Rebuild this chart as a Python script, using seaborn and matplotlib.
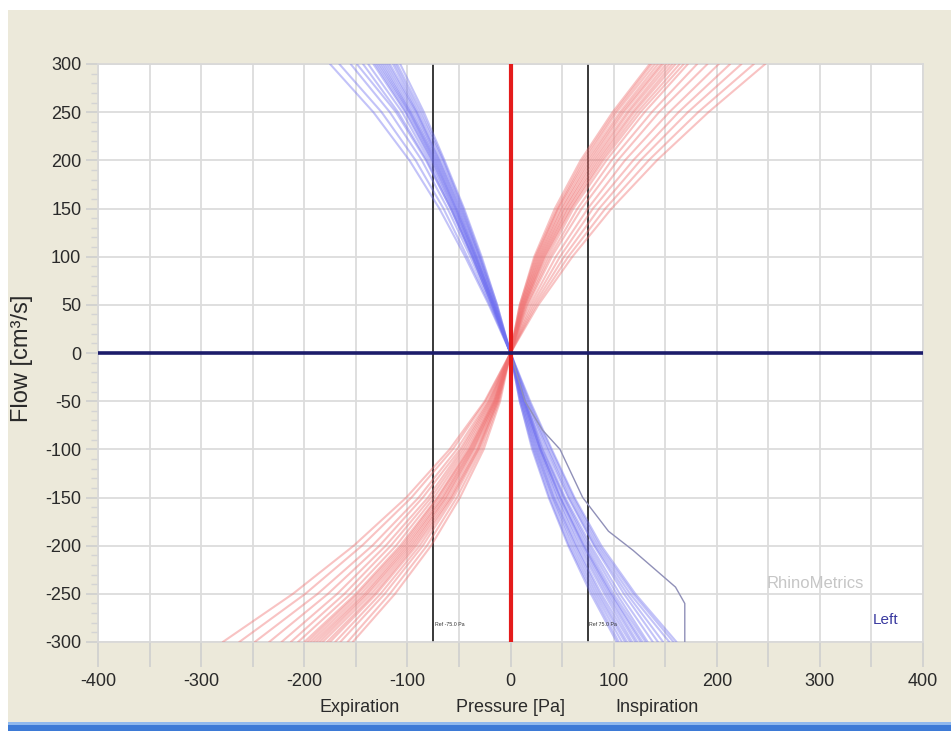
import matplotlib
matplotlib.use("Agg")
import matplotlib.pyplot as plt
from matplotlib.patches import Rectangle
from matplotlib.ticker import MultipleLocator
import pandas as pd
import seaborn as sns

# Flow levels (cm³/s) at which each trace's pressure (Pa) is sampled
flow_levels = [-300, -250, -200, -150, -100, -50, 0, 50, 100, 150, 200, 250, 300]

# Inspiration-type traces (red): pressure at each flow level
red_traces = [
    [-153, -112, -77, -49, -26, -10, 0, 9, 23, 43, 68, 99, 135],
    [-158, -117, -81, -52, -28, -11, 0, 9, 24, 45, 70, 101, 137],
    [-165, -122, -85, -55, -30, -12, 0, 10, 25, 46, 72, 103, 140],
    [-170, -126, -88, -57, -31, -12, 0, 10, 26, 47, 74, 106, 143],
    [-175, -130, -91, -58, -32, -13, 0, 11, 27, 49, 76, 108, 146],
    [-178, -132, -93, -60, -33, -13, 0, 11, 28, 50, 78, 110, 148],
    [-182, -135, -95, -62, -35, -14, 0, 12, 29, 52, 80, 113, 151],
    [-185, -138, -97, -63, -36, -14, 0, 12, 30, 53, 82, 115, 154],
    [-188, -140, -99, -65, -37, -15, 0, 13, 31, 55, 84, 118, 157],
    [-191, -142, -101, -66, -38, -15, 0, 13, 32, 56, 86, 120, 160],
    [-194, -145, -103, -68, -39, -16, 0, 14, 33, 58, 88, 123, 164],
    [-197, -148, -105, -70, -40, -16, 0, 14, 34, 59, 90, 126, 168],
    [-200, -150, -107, -71, -41, -17, 0, 15, 36, 61, 93, 130, 172],
    [-206, -155, -111, -74, -43, -18, 0, 16, 38, 65, 98, 137, 181],
    [-213, -161, -116, -77, -45, -19, 0, 17, 40, 69, 104, 144, 191],
    [-222, -168, -121, -80, -47, -20, 0, 19, 44, 75, 111, 154, 202],
    [-234, -177, -127, -85, -49, -21, 0, 21, 48, 80, 119, 163, 213],
    [-248, -187, -134, -89, -52, -22, 0, 23, 52, 86, 126, 172, 224],
    [-263, -199, -144, -96, -56, -24, 0, 25, 56, 92, 134, 182, 236],
    [-279, -211, -152, -101, -59, -25, 0, 27, 60, 98, 142, 192, 247],
]

# Expiration-type traces (blue): pressure at each flow level
blue_traces = [
    [103, 78, 56, 37, 21, 9, 0, -13, -28, -45, -64, -84, -107],
    [105, 80, 57, 38, 22, 9, 0, -13, -29, -46, -65, -86, -110],
    [108, 82, 59, 40, 23, 10, 0, -14, -30, -47, -66, -88, -112],
    [111, 84, 61, 41, 24, 10, 0, -14, -30, -48, -68, -90, -114],
    [113, 86, 63, 42, 25, 11, 0, -15, -31, -49, -69, -91, -117],
    [116, 88, 64, 43, 26, 11, 0, -15, -32, -50, -70, -92, -119],
    [118, 91, 66, 45, 27, 12, 0, -16, -33, -51, -71, -94, -121],
    [121, 93, 68, 46, 28, 12, 0, -16, -33, -52, -72, -96, -123],
    [123, 95, 70, 48, 29, 13, 0, -16, -34, -53, -73, -97, -125],
    [126, 97, 71, 48, 29, 13, 0, -16, -34, -53, -74, -98, -127],
    [128, 98, 72, 49, 29, 13, 0, -17, -35, -54, -75, -99, -129],
    [131, 100, 74, 51, 30, 14, 0, -17, -35, -55, -76, -101, -131],
    [133, 103, 76, 52, 31, 14, 0, -17, -36, -56, -77, -102, -133],
    [138, 106, 78, 53, 32, 14, 0, -18, -37, -57, -79, -105, -138],
    [143, 110, 81, 56, 34, 15, 0, -18, -37, -58, -81, -109, -143],
    [148, 113, 82, 57, 36, 16, 0, -18, -37, -58, -82, -111, -149],
    [154, 116, 84, 59, 37, 17, 0, -19, -39, -61, -86, -117, -155],
    [158, 119, 86, 61, 39, 18, 0, -20, -42, -65, -92, -125, -166],
    [161, 121, 88, 62, 40, 19, 0, -21, -44, -69, -98, -133, -175],
]

# One irregular expiration trace
odd_pressure = [0, 14, 31, 48, 70, 95, 113, 119, 160, 169, 169]
odd_flow = [0, -50, -80, -100, -150, -185, -200, -205, -243, -260, -300]

# Reference pressures and axis ticks
ref_pressures = [-75, 75]
ref_labels = ["Ref -75.0 Pa", "Ref 75.0 Pa"]
x_ticks = [-400, -300, -200, -100, 0, 100, 200, 300, 400]
y_ticks = [-300, -250, -200, -150, -100, -50, 0, 50, 100, 150, 200, 250, 300]

rows = []
for i, tr in enumerate(red_traces):
    for p, f in zip(tr, flow_levels):
        rows.append(("r%d" % i, "red", p, f))
for i, tr in enumerate(blue_traces):
    for p, f in zip(tr, flow_levels):
        rows.append(("b%d" % i, "blue", p, f))
df = pd.DataFrame(rows, columns=["trace", "kind", "pressure", "flow"])
odd = pd.DataFrame({"pressure": odd_pressure, "flow": odd_flow})

sns.set_theme(style="white")
plt.rcParams["font.family"] = ["Liberation Sans", "DejaVu Sans"]
plt.rcParams["axes.unicode_minus"] = False

W, H = 951, 731
fig = plt.figure(figsize=(W / 100, H / 100), dpi=100)
fig.patch.set_facecolor("white")
# window panel and task bar
for rect, col in [((8 / W, 9 / H, 1 - 8 / W, 1 - 19 / H), "#ece9da"),
                  ((8 / W, 0, 1 - 8 / W, 9 / H), "#3d7ad6"),
                  ((8 / W, 6 / H, 1 - 8 / W, 3 / H), "#8fb8ee")]:
    fig.patches.append(Rectangle(rect[:2], rect[2], rect[3],
                                 transform=fig.transFigure, facecolor=col,
                                 edgecolor="none", zorder=-5))

ax = fig.add_axes([98 / W, 1 - 642 / H, 825 / W, 578 / H])
ax.set_zorder(1)
ax.set_facecolor("white")
ax.set_xlim(-400, 400)
ax.set_ylim(-300, 300)

ax.set_xticks(x_ticks)
ax.xaxis.set_minor_locator(MultipleLocator(50))
ax.set_yticks(y_ticks)
ax.yaxis.set_minor_locator(MultipleLocator(10))
ax.set_axisbelow(True)
ax.grid(which="major", color="#dcdcdc", lw=1.3)
ax.xaxis.grid(True, which="minor", color="#dcdcdc", lw=1.3)
ax.yaxis.grid(False, which="minor")

ax.tick_params(axis="x", which="both", direction="out", length=18,
               width=1.2, color="#cfcfcf", pad=4, labelsize=13,
               labelcolor="#2a2a2a", bottom=True)
ax.tick_params(axis="y", which="major", direction="out", length=9,
               width=1.2, color="#cfcfcf", pad=3, labelsize=13,
               labelcolor="#2a2a2a", left=True)
ax.tick_params(axis="y", which="minor", direction="out", length=5,
               width=1.0, color="#d4d4d4", left=True)
for s in ax.spines.values():
    s.set_color("#d8d8d8")
    s.set_linewidth(1.2)

# reference pressure lines
for xr, lab in zip(ref_pressures, ref_labels):
    ax.axvline(xr, color="#383838", lw=1.4, zorder=2)
    ax.text(xr + 1.5, -282, lab, fontsize=3.8, color="#333333",
            va="center", ha="left", zorder=6)

sns.lineplot(data=df, x="pressure", y="flow", units="trace", hue="kind",
             estimator=None, sort=False,
             palette={"red": "#f07070", "blue": "#7070f0"},
             lw=1.5, alpha=0.42, legend=False, ax=ax, zorder=3)
sns.lineplot(data=odd, x="pressure", y="flow", estimator=None, sort=False,
             color="#9090b8", lw=1.0, ax=ax, zorder=3)

ax.axvline(0, color="#e41b1b", lw=3.0, zorder=5)
ax.axhline(0, color="#1c1c6a", lw=2.6, zorder=5)

ax.set_xlabel("")
ax.set_ylabel("")

ax.text(296, -239, "RhinoMetrics", fontsize=12, color="#c6c6c6",
        ha="center", va="center", zorder=6)
ax.text(364, -277, "Left", fontsize=11, color="#3a3aa0",
        ha="center", va="center", zorder=6)

fy = 1 - 708 / H
fig.text(360 / W, fy, "Expiration", fontsize=13, color="#2a2a2a", ha="center", va="center")
fig.text(510 / W, fy, "Pressure [Pa]", fontsize=13, color="#2a2a2a", ha="center", va="center")
fig.text(657 / W, fy, "Inspiration", fontsize=13, color="#2a2a2a", ha="center", va="center")
fig.text(22 / W, 1 - 358 / H, "Flow [cm³/s]", fontsize=17, color="#2a2a2a",
         rotation=90, ha="center", va="center")

fig.savefig("out.png", dpi=100, facecolor=fig.get_facecolor())
